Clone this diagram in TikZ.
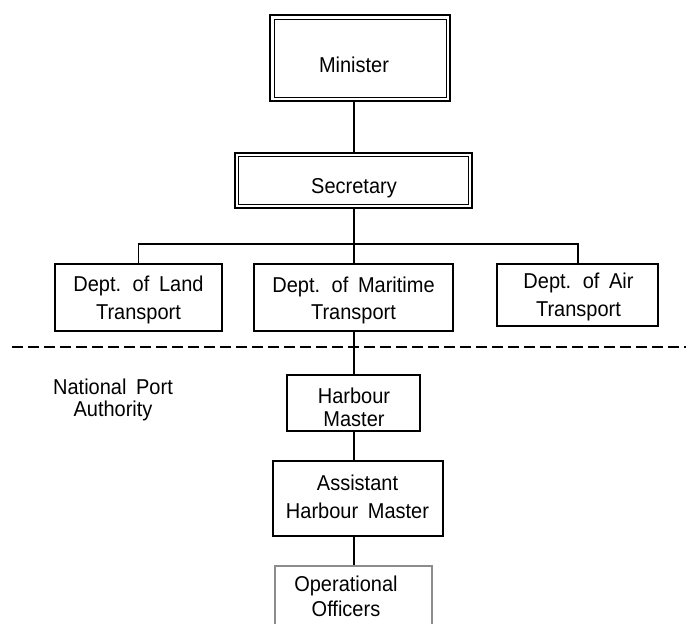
\documentclass[tikz,border=0pt]{standalone}
\usepackage{fontspec}
\setmainfont{Liberation Sans}[FakeStretch=0.93]
\newcommand\widespaces{\spaceskip=0.45em plus 1pt\relax}
\begin{document}
\begin{tikzpicture}[x=1pt,y=-1pt,
  box/.style={draw=black,line width=1.4pt,minimum width=#1,inner sep=0pt,fill=white},
  conn/.style={draw=black,line width=1.3pt},
  lbl/.style={anchor=north,inner sep=0pt,align=center},
  ft/.style={font=\fontsize{21.5}{#1}\selectfont\widespaces}
]
\useasboundingbox (0,0) rectangle (686,624);
% Minister double box
\node[draw=black,line width=1.8pt,minimum width=180pt,minimum height=86pt,inner sep=0pt] (min) at (360,58) {};
\node[draw=black,line width=1pt,minimum width=172pt,minimum height=78pt,inner sep=0pt] (minin) at (360,58) {};
\node[lbl,ft=24] (mint) at (354,57) {Minister};
% Secretary double box
\node[draw=black,line width=1.6pt,minimum width=237pt,minimum height=55pt,inner sep=0pt] (sec) at (353.5,180.5) {};
\node[draw=black,line width=1pt,minimum width=230pt,minimum height=48pt,inner sep=0pt] (secin) at (353.5,180.5) {};
\node[lbl,ft=24] (sect) at (354,178) {Secretary};
% Departments
\node[box=167pt,minimum height=67pt] (land) at (138.5,297.5) {};
\node[lbl,ft=28] (landt) at (138.5,276) {Dept. of Land\\Transport};
\node[box=199pt,minimum height=67pt] (mar) at (353.5,297.5) {};
\node[lbl,ft=27] (mart) at (353.5,277) {Dept. of Maritime\\Transport};
\node[box=161pt,minimum height=62pt] (air) at (577.5,295) {};
\node[lbl,ft=28] (airt) at (578.5,273) {Dept. of Air\\Transport};
% dashed separator
\coordinate (dl) at (12,347);
\coordinate (dr) at (686,347);
\draw[line width=1.5pt,dash pattern=on 11pt off 5pt] (dl) -- (dr);
% National Port Authority
\node[lbl,ft=22] (npa) at (113,379) {National Port\\Authority};
% Harbour Master
\node[box=133pt,minimum height=56pt] (hm) at (353.5,403) {};
\node[lbl,ft=23] (hmt) at (354,388) {Harbour\\Master};
% Assistant Harbour Master
\node[draw=black,line width=2pt,minimum width=170pt,minimum height=75pt,inner sep=0pt] (ahm) at (358,498.5) {};
\node[lbl,ft=28] (ahmt) at (357.5,475) {Assistant\\Harbour Master};
% Operational Officers
\node[draw=black!45,line width=2.2pt,minimum width=157pt,minimum height=90pt,inner sep=0pt] (oo) at (353.5,611) {};
\node[lbl,ft=25] (oot) at (346,576) {Operational\\Officers};
% connectors
\coordinate (hl) at (138.5,244);
\coordinate (hr) at (578,244);
\draw[conn] (min.south -| 354,0) -- (sec.north -| 354,0);
\draw[conn] (sec.south -| 354,0) -- (mar.north -| 354,0);
\draw[conn] (land.north -| hl) -- (hl) -- (hr) -- (air.north -| hr);
\draw[conn] (mar.south -| 354,0) -- (hm.north -| 354,0);
\draw[conn] (hm.south -| 354,0) -- (ahm.north -| 354,0);
\draw[conn] (ahm.south -| 354,0) -- (oo.north -| 354,0);
\end{tikzpicture}
\end{document}
